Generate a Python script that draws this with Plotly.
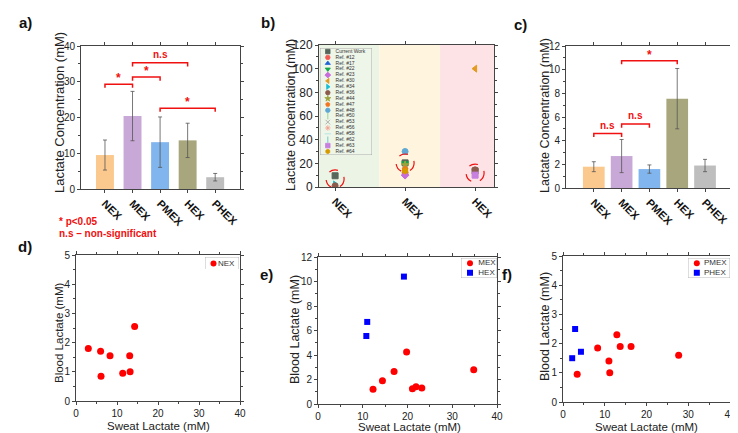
import plotly.graph_objects as go

W, H = 738, 433
FONT = "Liberation Sans, Arial, sans-serif"

# ---------------- data ----------------
categories = ["NEX", "MEX", "PMEX", "HEX", "PHEX"]
sweat_mean = [9.5, 20.4, 13.1, 13.6, 3.3]
sweat_err = [4.2, 6.9, 7.05, 4.8, 1.05]
blood_mean = [1.8, 2.7, 1.6, 7.55, 1.9]
blood_err = [0.42, 1.4, 0.35, 2.55, 0.52]

# significance brackets: (from category, to category, level, label)
sig_sweat = [(0, 1, 29.3, "*"), (1, 2, 31.3, "*"), (1, 3, 35.3, "n.s"), (2, 4, 22.6, "*")]
sig_blood = [(0, 1, 4.6, "n.s"), (1, 2, 5.4, "n.s"), (1, 3, 10.75, "*")]

b_categories = ["NEX", "MEX", "HEX"]
b_series = ["Current Work", "Ref. #12", "Ref. #17", "Ref. #22", "Ref. #23", "Ref. #30",
            "Ref. #34", "Ref. #36", "Ref. #44", "Ref. #47", "Ref. #48", "Ref. #50",
            "Ref. #53", "Ref. #56", "Ref. #58", "Ref. #62", "Ref. #63", "Ref. #64"]
b_nex = [9.5, None, None, None, None, None, 2.2, 1.0, None, None, None, None,
         None, None, None, None, None, None]
b_mex = [20.4, 12.0, None, 20.0, 10.0, None, None, None, 18.5, 15.0, 30.0, None,
         None, None, None, None, None, 13.5]
b_hex = [13.6, None, None, None, None, 100.0, None, 14.5, None, None, None, None,
         None, None, None, None, 10.0, None]
b_focus = [6.8, 20.3, 11.8]   # centres of the dashed circles

nex_sweat = [3.0, 6.0, 8.3, 6.1, 11.4, 13.1, 13.2, 14.3]
nex_blood = [1.8, 1.7, 1.55, 0.85, 0.95, 1.55, 1.0, 2.55]
mex_sweat = [12.3, 14.4, 17.0, 19.8, 21.1, 21.9, 23.2, 34.8]
mex_blood = [1.2, 1.9, 2.65, 4.25, 1.25, 1.4, 1.3, 2.8]
hex_sweat = [10.8, 11.0, 19.2]
hex_blood = [5.55, 6.7, 10.4]
pmex_sweat = [3.4, 8.3, 11.0, 11.2, 12.9, 13.7, 16.3, 27.7]
pmex_blood = [0.95, 1.85, 1.4, 1.0, 2.3, 1.9, 1.9, 1.6]
phex_sweat = [2.2, 2.9, 4.3]
phex_blood = [1.5, 2.5, 1.72]

# ---------------- styles ----------------
bar_colors = ["#FBC98E", "#C8A8D6", "#80B5EE", "#A8A67C", "#BEBEBE"]
b_symbols = ["square", "circle", "triangle-up", "triangle-down", "diamond", "triangle-left",
             "triangle-right", "circle", "star", "pentagon", "circle", "line-ns",
             "x-thin", "asterisk", "line-ew", "line-ns", "square", "hexagon"]
b_colors = ["#56665A", "#F25C54", "#1F62D8", "#14A84B", "#C86BDB", "#E39A1E",
            "#17BFD3", "#8C5B4B", "#9DA33B", "#F3751F", "#5FA8D3", "#7FCF7F",
            "#A0A0A0", "#F29C8C", "#A8E0E8", "#4FC0C8", "#C77FE0", "#D59A00"]
band_colors = ["#ECF4E5", "#FFF5DE", "#FDE3E5"]
RED = "#F01010"


def dx(a, b):
    return [a / W, b / W]


def dy(top, bottom):
    return [1 - bottom / H, 1 - top / H]


def px(x):
    return x / W


def py(y):
    return 1 - y / H


def axis(**kw):
    d = dict(showline=True, linecolor="#444", linewidth=1, mirror="allticks",
             ticks="outside", ticklen=3, tickcolor="#444", tickwidth=1,
             showgrid=False, zeroline=False, automargin=False, ticklabeloverflow="allow",
             tickfont=dict(size=10, color="#222", family=FONT))
    d.update(kw)
    return d


def hidden(domain, rng):
    return dict(domain=domain, range=rng, visible=False, fixedrange=True)


fig = go.Figure()
shapes = []
annotations = []

# ---------------- panel a ----------------
pos = list(range(len(categories)))
fig.add_trace(go.Bar(x=pos, y=sweat_mean, width=0.65, marker=dict(color=bar_colors, line_width=0),
                     error_y=dict(type="data", array=sweat_err, color="#555", thickness=0.8, width=2),
                     xaxis="x", yaxis="y", showlegend=False))
# ---------------- panel c ----------------
fig.add_trace(go.Bar(x=pos, y=blood_mean, width=0.78, marker=dict(color=bar_colors, line_width=0),
                     error_y=dict(type="data", array=blood_err, color="#555", thickness=0.8, width=2),
                     xaxis="x3", yaxis="y3", showlegend=False))


def brackets(sigs, xr, yr, drop, ns_size, star_size):
    for i, j, lvl, lab in sigs:
        shapes.append(dict(type="path", xref=xr, yref=yr, layer="above",
                           path=f"M {i},{lvl - drop} L {i},{lvl} L {j},{lvl} L {j},{lvl - drop}",
                           line=dict(color=RED, width=1.5)))
        star = lab == "*"
        annotations.append(dict(xref=xr, yref=yr, x=(i + j) / 2, y=lvl, text=f"<b>{lab}</b>",
                                showarrow=False, yanchor="bottom",
                                yshift=-3 if star else 1,
                                font=dict(color=RED, size=star_size if star else ns_size, family=FONT)))


brackets(sig_sweat, "x", "y", 1.0, 10, 12)
brackets(sig_blood, "x3", "y3", 0.3, 10, 12)

# ---------------- panel b ----------------
b_pos = list(range(len(b_categories)))
b_cols = [b_nex, b_mex, b_hex]
band_edges = [-0.23, 0.63, 1.5, 2.27]
for k in range(3):
    shapes.append(dict(type="rect", xref="x2", yref="y2", layer="below",
                       x0=band_edges[k], x1=band_edges[k + 1], y0=0, y1=120,
                       fillcolor=band_colors[k], line_width=0))
for s, name in enumerate(b_series):
    xs = [b_pos[c] for c in range(3) if b_cols[c][s] is not None]
    ys = [b_cols[c][s] for c in range(3) if b_cols[c][s] is not None]
    if not xs:
        continue
    fig.add_trace(go.Scatter(x=xs, y=ys, mode="markers", name=name, showlegend=False,
                             marker=dict(symbol=b_symbols[s], color=b_colors[s], size=6,
                                         line=dict(color=b_colors[s], width=1)),
                             xaxis="x2", yaxis="y2"))
for c in range(3):
    shapes.append(dict(type="circle", xref="x2", yref="y2", layer="above",
                       xsizemode="pixel", ysizemode="pixel", xanchor=b_pos[c], yanchor=b_focus[c],
                       x0=-9, x1=9, y0=-9, y1=9, line=dict(color=RED, width=1.2, dash="dash")))

# custom compact legend for b
n = len(b_series)
fig.add_trace(go.Scatter(x=[0.15] * n, y=list(range(n)), mode="markers", showlegend=False,
                         marker=dict(symbol=b_symbols, color=b_colors, size=4.5,
                                     line=dict(color=b_colors, width=0.8)),
                         xaxis="x7", yaxis="y7", hoverinfo="skip"))
fig.add_trace(go.Scatter(x=[0.3] * n, y=list(range(n)), mode="text", text=b_series,
                         textposition="middle right", showlegend=False,
                         textfont=dict(size=5, color="#333", family=FONT),
                         xaxis="x7", yaxis="y7", hoverinfo="skip"))
shapes.append(dict(type="rect", xref="x7", yref="y7", layer="below", x0=0, x1=1,
                   y0=-0.6, y1=n - 0.4, line=dict(color="#999", width=0.8),
                   fillcolor="rgba(255,255,255,0.15)"))

# ---------------- panels d, e, f ----------------
def pts(x, y, xa, ya, sym, color, size):
    fig.add_trace(go.Scatter(x=x, y=y, mode="markers", showlegend=False,
                             marker=dict(symbol=sym, color=color, size=size, line_width=0),
                             xaxis=xa, yaxis=ya))


pts(nex_sweat, nex_blood, "x4", "y4", "circle", "#FF0000", 7)
pts(mex_sweat, mex_blood, "x5", "y5", "circle", "#FF0000", 7)
pts(hex_sweat, hex_blood, "x5", "y5", "square", "#0000FF", 6)
pts(pmex_sweat, pmex_blood, "x6", "y6", "circle", "#FF0000", 7)
pts(phex_sweat, phex_blood, "x6", "y6", "square", "#0000FF", 6)


def small_legend(xa, ya, names, syms, cols, mx, tx):
    m = len(names)
    fig.add_trace(go.Scatter(x=[mx] * m, y=list(range(m)), mode="markers", showlegend=False,
                             marker=dict(symbol=syms, color=cols, size=6, line_width=0),
                             xaxis=xa, yaxis=ya, hoverinfo="skip"))
    fig.add_trace(go.Scatter(x=[tx] * m, y=list(range(m)), mode="text", text=names,
                             textposition="middle right", showlegend=False,
                             textfont=dict(size=8, color="#333", family=FONT),
                             xaxis=xa, yaxis=ya, hoverinfo="skip"))
    shapes.append(dict(type="rect", xref=xa, yref=ya, layer="below", x0=0, x1=1,
                       y0=-0.55, y1=m - 0.45, line=dict(color="#AAA", width=0.8), fillcolor="white"))


small_legend("x8", "y8", ["NEX"], ["circle"], ["#FF0000"], 0.25, 0.38)
small_legend("x9", "y9", ["MEX", "HEX"], ["circle", "square"], ["#FF0000", "#0000FF"], 0.25, 0.48)
small_legend("x10", "y10", ["PMEX", "PHEX"], ["circle", "square"], ["#FF0000", "#0000FF"], 0.21, 0.38)

# ---------------- axes ----------------
bold_tick = dict(size=11, color="#111", family=FONT, weight="bold")
minor = lambda d: dict(ticks="outside", dtick=d, ticklen=2, tickcolor="#444")
layout_axes = dict(
    xaxis=axis(domain=dx(73, 232), anchor="y", range=[-0.87, 4.9], tickvals=pos, ticktext=categories,
               tickangle=45, tickfont=bold_tick),
    yaxis=axis(domain=dy(38, 181), anchor="x", range=[0, 40], dtick=10, minor=minor(5)),
    xaxis2=axis(domain=dx(311, 486), anchor="y2", range=[-0.23, 2.27], tickvals=b_pos,
                ticktext=b_categories, tickangle=45, tickfont=bold_tick),
    yaxis2=axis(domain=dy(37, 179), anchor="x2", range=[0, 120], dtick=20,
                tickfont=dict(size=12, color="#222", family=FONT), minor=minor(10)),
    xaxis3=axis(domain=dx(558, 724), anchor="y3", range=[-1.0, 4.97], tickvals=pos, ticktext=categories,
                tickangle=45, tickfont=bold_tick),
    yaxis3=axis(domain=dy(38, 180), anchor="x3", range=[0, 12], dtick=2, minor=minor(1)),
    xaxis4=axis(domain=dx(68, 232), anchor="y4", range=[0, 40], dtick=10, minor=minor(5)),
    yaxis4=axis(domain=dy(247, 393), anchor="x4", range=[0, 5], dtick=1, minor=minor(0.5)),
    xaxis5=axis(domain=dx(310, 489), anchor="y5", range=[0, 40], dtick=10, minor=minor(5)),
    yaxis5=axis(domain=dy(249, 396), anchor="x5", range=[0, 12], dtick=2, minor=minor(1)),
    xaxis6=axis(domain=dx(555, 722), anchor="y6", range=[0, 40], dtick=10, minor=minor(5)),
    yaxis6=axis(domain=dy(248, 394), anchor="x6", range=[0, 5], dtick=1, minor=minor(0.5)),
    xaxis7=hidden(dx(312, 364), [0, 1]),
    yaxis7=hidden(dy(40, 147), [n - 0.4, -0.6]),
    xaxis8=hidden(dx(197, 231), [0, 1]),
    yaxis8=hidden(dy(249, 261), [0.45, -0.55]),
    xaxis9=hidden(dx(453, 489), [0, 1]),
    yaxis9=hidden(dy(250, 270), [1.55, -0.55]),
    xaxis10=hidden(dx(680, 722), [0, 1]),
    yaxis10=hidden(dy(250, 270), [1.55, -0.55]),
)
for k in range(7, 11):
    layout_axes[f"xaxis{k}"]["anchor"] = f"y{k}"
    layout_axes[f"yaxis{k}"]["anchor"] = f"x{k}"

# ---------------- texts ----------------
def label(x, y, t, size=15):
    annotations.append(dict(xref="paper", yref="paper", x=px(x), y=py(y), text=f"<b>{t}</b>",
                            showarrow=False, xanchor="left", yanchor="middle",
                            font=dict(size=size, color="#111", family=FONT)))


label(9, 15, "a)")
label(251, 15, "b)")
label(504, 16, "c)")
label(8, 238, "d)")
label(250, 266, "e)")
label(492, 266, "f)")


def ytitle(x, y, t, size):
    annotations.append(dict(xref="paper", yref="paper", x=px(x), y=py(y), text=t, textangle=-90,
                            showarrow=False, xanchor="center", yanchor="middle",
                            font=dict(size=size, color="#222", family=FONT)))


def xtitle(x, y, t, size):
    annotations.append(dict(xref="paper", yref="paper", x=px(x), y=py(y), text=t,
                            showarrow=False, xanchor="center", yanchor="middle",
                            font=dict(size=size, color="#222", family=FONT)))


ytitle(51, 105, "Lactate Concentration (mM)", 13)
ytitle(283, 107, "Lactate concentration (mM)", 12.5)
ytitle(537, 108, "Lactate Concentration (mM)", 12.5)
ytitle(51, 325, "Blood Lactate (mM)", 11.5)
xtitle(150, 418, "Sweat Lactate (mM)", 11.5)
ytitle(287, 322, "Blood Lactate (mM)", 12.5)
xtitle(401, 419, "Sweat Lactate (mM)", 11.5)
ytitle(537, 319, "Blood Lactate (mM)", 12.5)
xtitle(638, 419, "Sweat Lactate (mM)", 11.5)

for yy, t in [(213, "* p&lt;0.05"), (225, "n.s – non-significant")]:
    annotations.append(dict(xref="paper", yref="paper", x=px(49), y=py(yy), text=f"<b>{t}</b>",
                            showarrow=False, xanchor="left", yanchor="middle",
                            font=dict(size=10, color=RED, family=FONT)))

fig.update_layout(width=W, height=H, margin=dict(l=0, r=0, t=0, b=0),
                  paper_bgcolor="white", plot_bgcolor="rgba(0,0,0,0)",
                  showlegend=False, shapes=shapes, annotations=annotations,
                  font=dict(family=FONT), **layout_axes)

fig.write_html("out.html")
